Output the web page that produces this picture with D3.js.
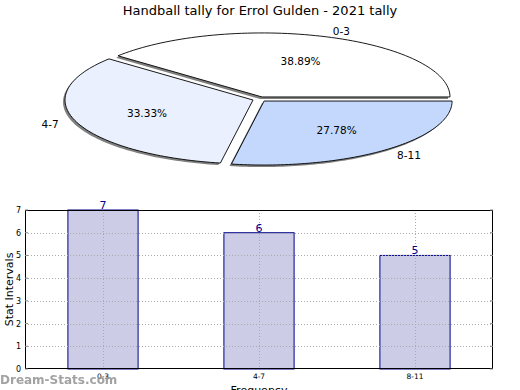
<!DOCTYPE html>
<html><head><meta charset="utf-8">
<script src="https://cdn.jsdelivr.net/npm/d3@7"></script>
<style>body{margin:0;background:#fff}svg{display:block;font-family:"DejaVu Sans",sans-serif}</style>
</head><body><svg id="c" width="520" height="390"></svg>
<script>
const title = "Handball tally for Errol Gulden - 2021 tally";
const categories = ["0-3", "4-7", "8-11"];
const values = [7, 6, 5];
const pctLabels = ["38.89%", "33.33%", "27.78%"];
const yTicks = [0, 1, 2, 3, 4, 5, 6, 7];
const sliceColors = ["#ffffff", "#eaf0fd", "#c4d8fe"];

const svg = d3.select("#c");
svg.append("rect").attr("width",520).attr("height",390).attr("fill","#fff");

svg.append("text").attr("x",260).attr("y",15).attr("text-anchor","middle")
  .attr("font-size",13).attr("fill","#000").text(title);

// ---- Pie ----
const cx = 259.6, cy = 99.2, rx = 188, ry = 64, ex = 7, ey = 2.4;
const pie = d3.pie().sort(null).startAngle(Math.PI/2).endAngle(Math.PI/2 - 2*Math.PI);
const arcs = pie(values);
const defs = svg.append("defs");
defs.append("filter").attr("id","blur").attr("x","-10%").attr("y","-10%").attr("width","120%").attr("height","120%")
  .append("feGaussianBlur").attr("stdDeviation",0.6);
function off(a){ const m=(a.startAngle+a.endAngle)/2; return [ex*Math.sin(m), -ey*Math.cos(m)]; }
function wedge(a, px, py){
  const p = d3.path();
  p.moveTo(px, py);
  const n = 80;
  for(let k=0;k<=n;k++){
    const t = a.startAngle + (a.endAngle-a.startAngle)*k/n;
    p.lineTo(px + rx*Math.sin(t), py - ry*Math.cos(t));
  }
  p.closePath();
  return p.toString();
}
const pg = svg.append("g");
arcs.forEach(a=>{
  const [ox,oy]=off(a);
  pg.append("path").attr("d",wedge(a, cx+ox-2, cy+oy+2))
    .attr("fill","#808080").attr("filter","url(#blur)");
});
arcs.forEach((a,i)=>{
  const [ox,oy]=off(a);
  pg.append("path").attr("d",wedge(a, cx+ox, cy+oy))
    .attr("fill",sliceColors[i]).attr("stroke","#000").attr("stroke-width",0.9)
    .attr("stroke-linejoin","miter");
});
arcs.forEach((a,i)=>{
  const [ox,oy]=off(a);
  const m=(a.startAngle+a.endAngle)/2, sx=Math.sin(m), sy=-Math.cos(m);
  pg.append("text").attr("x",cx+ox+0.6*rx*sx).attr("y",cy+oy+0.6*ry*sy)
    .attr("text-anchor","middle").attr("dominant-baseline","central")
    .attr("font-size",10.5).text(pctLabels[i]);
  pg.append("text").attr("x",cx+ox+1.1*rx*sx).attr("y",cy+oy+1.1*ry*sy)
    .attr("text-anchor", sx>0?"start":"end").attr("dominant-baseline","central")
    .attr("font-size",10.5).text(categories[i]);
});

// ---- Bars ----
const L=25, R=493, T=210, B=369;
const x = d3.scaleBand().domain(categories).range([L,R]).padding(0);
const y = d3.scaleLinear().domain([0,7]).range([B,T]);
const bw = x.bandwidth()*0.45;
const g = svg.append("g");
g.selectAll("rect.bar").data(values).join("rect").attr("class","bar")
  .attr("x",(d,i)=>x(categories[i])+(x.bandwidth()-bw)/2).attr("width",bw)
  .attr("y",d=>y(d)).attr("height",d=>B-y(d))
  .attr("fill","#cccce6").attr("stroke","#00008b").attr("stroke-width",1);
// grid
const grid = g.append("g").attr("stroke","#aaa").attr("stroke-dasharray","1,2").attr("stroke-width",1);
yTicks.filter(t=>t>0&&t<7).forEach(t=>{
  grid.append("line").attr("x1",L).attr("x2",R).attr("y1",Math.round(y(t))+0.5).attr("y2",Math.round(y(t))+0.5);
});
categories.forEach(c=>{
  const xc=Math.round(x(c)+x.bandwidth()/2)+0.5;
  grid.append("line").attr("x1",xc).attr("x2",xc).attr("y1",T).attr("y2",B);
});
// frame
g.append("rect").attr("x",L+0.5).attr("y",T+0.5).attr("width",R-L-1).attr("height",B-T-1)
  .attr("fill","none").attr("stroke","#000").attr("stroke-width",1);
// y axis
const ya = d3.axisLeft(y).tickValues(yTicks).tickFormat(d3.format("d")).tickSize(0).tickPadding(4);
const yg = g.append("g").attr("transform",`translate(${L},0)`).call(ya);
yg.select(".domain").remove();
yg.selectAll("text").attr("font-size",8).attr("font-family","DejaVu Sans").attr("fill","#000");
yTicks.forEach(t=>{
  g.append("line").attr("x1",L).attr("x2",L+3).attr("y1",y(t)).attr("y2",y(t)).attr("stroke","#888");
  g.append("line").attr("x1",R-3).attr("x2",R).attr("y1",y(t)).attr("y2",y(t)).attr("stroke","#888");
});
// x axis
const xa = d3.axisBottom(x).tickSize(0).tickPadding(5);
const xg = g.append("g").attr("transform",`translate(0,${B})`).call(xa);
xg.select(".domain").remove();
xg.selectAll("text").attr("font-size",7.5).attr("font-family","DejaVu Sans").attr("fill","#000");
// value labels
g.selectAll("text.val").data(values).join("text").attr("class","val")
  .attr("x",(d,i)=>x(categories[i])+x.bandwidth()/2).attr("y",d=>y(d)-1)
  .attr("text-anchor","middle").attr("font-size",11).attr("fill","#00008b").text(d=>d);
// axis titles
svg.append("text").attr("transform",`translate(13,${(T+B)/2}) rotate(-90)`)
  .attr("text-anchor","middle").attr("font-size",11).text("Stat Intervals");
svg.append("text").attr("x",(L+R)/2).attr("y",394).attr("text-anchor","middle")
  .attr("font-size",11).text("Frequency");
// watermark
svg.append("text").attr("x",0).attr("y",384).attr("font-size",12).attr("font-weight","bold")
  .attr("fill","#999").attr("opacity",0.9).text("Dream-Stats.com");
</script></body></html>
